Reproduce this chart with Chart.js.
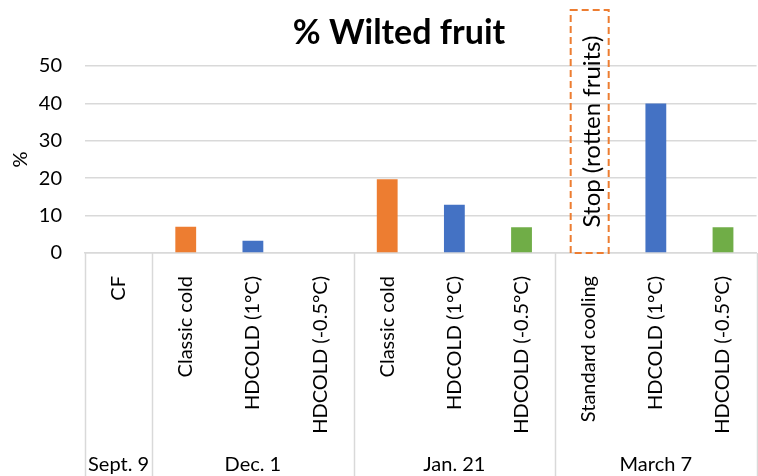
<!DOCTYPE html>
<html>
<head>
<meta charset="utf-8">
<script src="https://cdn.jsdelivr.net/npm/chart.js@4.4.1/dist/chart.umd.min.js"></script>
<style>
  html, body { margin: 0; padding: 0; background: #fff; overflow: hidden; }
  #wrap { width: 762px; height: 476px; position: relative; }
</style>
</head>
<body>
<div id="wrap"><canvas id="wiltedChart"></canvas></div>
<script>
// categorias (tratamentos) e valores
const categorias = ['CF', 'Classic cold', 'HDCOLD (1°C)', 'HDCOLD (-0.5°C)', 'Classic cold', 'HDCOLD (1°C)', 'HDCOLD (-0.5°C)', 'Standard cooling', 'HDCOLD (1°C)', 'HDCOLD (-0.5°C)'];
const murchos = [0, 7, 3.3, 0, 19.7, 12.9, 6.9, null, 40, 6.9];
const datas = ['Sept. 9', 'Dec. 1', 'Jan. 21', 'March 7'];
const tamanhoGrupos = [1, 3, 3, 3];
const yTicks = [0, 10, 20, 30, 40, 50];
const notaParada = 'Stop (rotten fruits)';
const indiceParada = 7;

const FONTE = 'Lato, "Liberation Sans", sans-serif';

function corDaBarra(nome) {
    if (nome.startsWith('HDCOLD (1')) return '#4472C4';
    if (nome.startsWith('HDCOLD (-')) return '#70AD47';
    return '#ED7D31';
}

// plugin: título, separadores de datas, rótulos de grupo e a caixa "Stop"
const extras = {
    id: 'extras',
    afterDraw(chart) {
        const ctx = chart.ctx;
        const x = chart.scales.x;
        const area = chart.chartArea;
        const passo = x.getPixelForValue(1) - x.getPixelForValue(0);

        ctx.save();
        // título
        ctx.fillStyle = '#000';
        ctx.font = 'bold 34px ' + FONTE;
        ctx.textAlign = 'center';
        ctx.textBaseline = 'alphabetic';
        ctx.fillText('% Wilted fruit', 399, 44);

        // separadores e rótulos das datas
        ctx.strokeStyle = '#D9D9D9';
        ctx.lineWidth = 1.5;
        let inicio = 0;
        const limites = [0];
        tamanhoGrupos.forEach(n => { inicio += n; limites.push(inicio); });
        limites.forEach(i => {
            const px = Math.round(x.getPixelForValue(i) - passo / 2) + 0.5;
            ctx.beginPath();
            ctx.moveTo(px, area.bottom);
            ctx.lineTo(px, chart.height);
            ctx.stroke();
        });
        ctx.font = '20px ' + FONTE;
        ctx.fillStyle = '#000';
        datas.forEach((d, g) => {
            const a = limites[g], b = limites[g + 1];
            const cx = (x.getPixelForValue(a) + x.getPixelForValue(b - 1)) / 2;
            ctx.fillText(d, cx, 471);
        });

        // caixa tracejada "Stop (rotten fruits)"
        const bx = x.getPixelForValue(indiceParada) + 1;
        const topo = 10;
        ctx.strokeStyle = '#ED7D31';
        ctx.lineWidth = 2;
        ctx.setLineDash([7, 4]);
        ctx.strokeRect(bx - 19, topo, 38, area.bottom - topo);
        ctx.setLineDash([]);
        ctx.translate(bx + 3, (topo + area.bottom) / 2);
        ctx.rotate(-Math.PI / 2);
        ctx.textBaseline = 'middle';
        ctx.fillStyle = '#000';
        ctx.font = '24px ' + FONTE;
        ctx.fillText(notaParada, 0, 0);
        ctx.restore();
    }
};

document.addEventListener('DOMContentLoaded', () => {
    const ctx = document.getElementById('wiltedChart').getContext('2d');
    new Chart(ctx, {
        type: 'bar',
        data: {
            labels: categorias,
            datasets: [{
                label: '% Wilted fruit',
                data: murchos,
                backgroundColor: categorias.map(corDaBarra),
                categoryPercentage: 1,
                barPercentage: 0.31
            }]
        },
        options: {
            responsive: true,
            maintainAspectRatio: false,
            animation: false,
            layout: { padding: { top: 66, right: 0, bottom: 0, left: 0 } },
            plugins: {
                legend: { display: false },
                tooltip: { enabled: false },
                title: { display: false }
            },
            scales: {
                x: {
                    grid: { display: false },
                    border: { color: '#D9D9D9', width: 1.5 },
                    ticks: {
                        maxRotation: 90,
                        minRotation: 90,
                        padding: 15,
                        color: '#000',
                        font: { family: FONTE, size: 20 }
                    },
                    afterFit(s) { s.height = 223; }
                },
                y: {
                    min: 0,
                    max: 50,
                    afterBuildTicks(s) { s.ticks = yTicks.map(v => ({ value: v })); },
                    grid: { color: '#D9D9D9', lineWidth: 1.5, drawTicks: false },
                    border: { display: false },
                    ticks: {
                        padding: 23,
                        color: '#000',
                        font: { family: FONTE, size: 20 }
                    },
                    title: {
                        display: true,
                        text: '%',
                        color: '#000',
                        font: { family: FONTE, size: 20 },
                        padding: { top: 9, bottom: 0 }
                    },
                    afterFit(s) { s.width = 85; }
                }
            }
        },
        plugins: [extras]
    });
});
</script>
</body>
</html>
